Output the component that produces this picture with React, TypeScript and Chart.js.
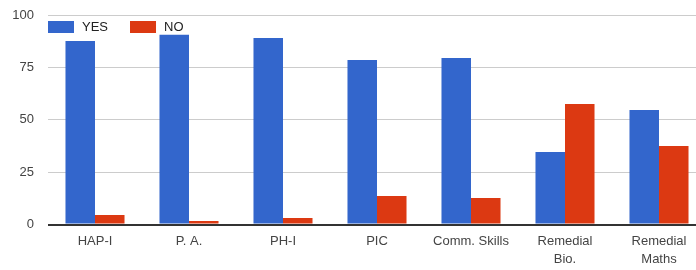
import React, { useEffect, useRef } from "react";
import { Chart, registerables } from "chart.js";

Chart.register(...registerables);

const categories: (string | string[])[] = [
  "HAP-I",
  "P. A.",
  "PH-I",
  "PIC",
  "Comm. Skills",
  ["Remedial", "Bio."],
  ["Remedial", "Maths"],
];
const yesValues = [87.6, 90.6, 89.0, 78.5, 79.5, 34.6, 54.7];
const noValues = [4.5, 1.7, 3.1, 13.6, 12.6, 57.5, 37.5];
const seriesNames = ["YES", "NO"];
const seriesColors = ["#3366CC", "#DC3912"];
const yTicks = [0, 25, 50, 75, 100];

const FONT = "'Liberation Sans', Arial, sans-serif";

const insideLegend = {
  id: "insideLegend",
  afterDraw(chart: any) {
    const ctx = chart.ctx;
    const area = chart.chartArea;
    ctx.save();
    ctx.font = `13px ${FONT}`;
    ctx.textBaseline = "middle";
    ctx.textAlign = "left";
    let x = area.left;
    const y = area.top + 6;
    chart.data.datasets.forEach((ds: any) => {
      ctx.fillStyle = ds.backgroundColor;
      ctx.fillRect(x, y, 26, 12);
      ctx.fillStyle = "#222";
      ctx.fillText(ds.label, x + 34, y + 6.5);
      const w = ctx.measureText(ds.label).width;
      x += 34 + w + 22;
    });
    ctx.restore();
  },
};

export default function App() {
  const ref = useRef<HTMLCanvasElement>(null);
  useEffect(() => {
    if (!ref.current) return;
    const chart = new Chart(ref.current, {
      type: "bar",
      data: {
        labels: categories,
        datasets: [
          {
            label: seriesNames[0],
            data: yesValues,
            backgroundColor: seriesColors[0],
            categoryPercentage: 0.628,
            barPercentage: 1,
          },
          {
            label: seriesNames[1],
            data: noValues,
            backgroundColor: seriesColors[1],
            categoryPercentage: 0.628,
            barPercentage: 1,
          },
        ],
      },
      plugins: [insideLegend],
      options: {
        animation: false,
        responsive: false,
        maintainAspectRatio: false,
        layout: { padding: { top: 15, right: 0, left: 0, bottom: 0 } },
        plugins: {
          legend: { display: false },
          tooltip: { enabled: false },
        },
        scales: {
          x: {
            grid: { display: false, drawTicks: false },
            border: { display: false },
            ticks: {
              color: "#444",
              font: { family: FONT, size: 13, lineHeight: 1.4 },
              padding: 7.5,
              maxRotation: 0,
              autoSkip: false,
            },
            afterFit: (s: any) => {
              s.height = 45.5;
              s.paddingTop = 0;
              s.paddingBottom = 0;
            },
          },
          y: {
            min: 0,
            max: 100,
            afterBuildTicks: (s: any) => {
              s.ticks = yTicks.map((v) => ({ value: v }));
            },
            grid: {
              drawTicks: false,
              color: (c: any) => (c.tick && c.tick.value === 0 ? "#333" : "#ccc"),
              lineWidth: (c: any) => (c.tick && c.tick.value === 0 ? 2 : 1),
            },
            border: { display: false },
            ticks: {
              color: "#444",
              font: { family: FONT, size: 13 },
              padding: 14,
            },
            afterFit: (s: any) => {
              s.width = 48;
              s.paddingTop = 0;
              s.paddingBottom = 0;
            },
          },
        },
      },
    });
    return () => chart.destroy();
  }, []);
  return (
    <div style={{ position: "fixed", left: 0, top: 0, width: 696, height: 270, overflow: "hidden", background: "#fff" }}>
      <canvas ref={ref} width={706} height={270} style={{ width: 706, height: 270, display: "block" }} />
    </div>
  );
}
